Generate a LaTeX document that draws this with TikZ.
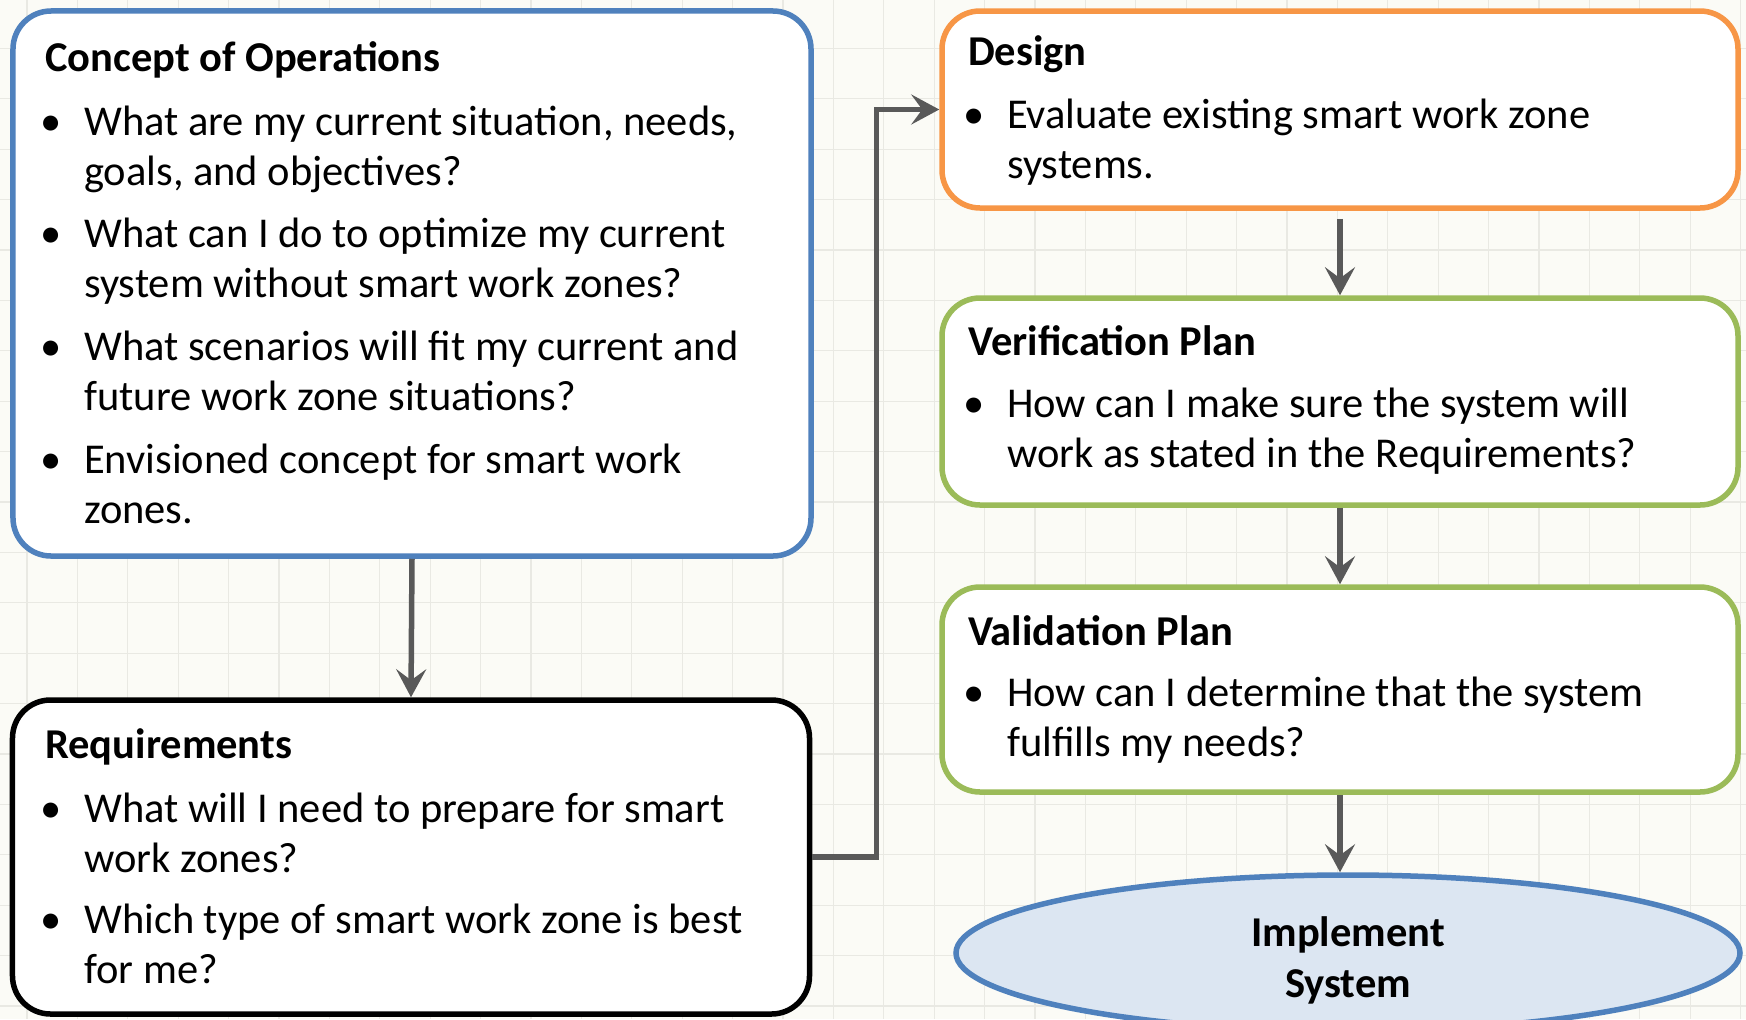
\documentclass[tikz,border=0pt]{standalone}
\usepackage{fontspec}
\setmainfont{Carlito}
\usetikzlibrary{arrows.meta,shapes.geometric}
\definecolor{bgc}{HTML}{FBFBF6}
\definecolor{gridc}{HTML}{E9E9E3}
\definecolor{cblue}{HTML}{4F81BD}
\definecolor{corange}{HTML}{F79646}
\definecolor{cgreen}{HTML}{9BBB59}
\definecolor{cfill}{HTML}{DCE6F2}
\definecolor{carrow}{HTML}{595959}
\tikzset{
  box/.style={draw=#1, line width=5.5bp, fill=white, rounded corners=38bp, rectangle, inner sep=0pt},
  oval/.style={ellipse, draw=cblue, line width=5.5bp, fill=cfill, inner sep=0pt},
  txt/.style={anchor=base west, inner sep=0pt, font=\fontsize{42.5bp}{51bp}\selectfont},
  ttl/.style={anchor=base west, inner sep=0pt, font=\fontsize{42.5bp}{51bp}\selectfont\bfseries},
  ctr/.style={anchor=base, inner sep=0pt, font=\fontsize{42.5bp}{51bp}\selectfont\bfseries},
  bul/.style={anchor=base, inner sep=0pt, font=\fontsize{42.5bp}{51bp}\selectfont},
  conn/.style={draw=carrow, line width=5.5bp, -{Stealth[length=28bp, width=30bp, inset=11bp]}},
  gridline/.style={draw=gridc, line width=1.3bp}
}
\begin{document}
\begin{tikzpicture}[x=1bp, y=-1bp]
\useasboundingbox (0,0) rectangle (1746,1019);
\fill[bgc] (0,0) rectangle (1746,1019);
\foreach \i in {0,...,34} \draw[gridline] ({27+\i*50.4},0) -- ({27+\i*50.4},1019);
\foreach \j in {0,...,20} \draw[gridline] (0,{-2+\j*50.4}) -- (1746,{-2+\j*50.4});

% boxes
\node[box=cblue, minimum width=798bp, minimum height=545bp] (conops) at (412,283.5) {};
\node[box=black, minimum width=797bp, minimum height=314bp] (req) at (411,857) {};
\node[box=corange, minimum width=796bp, minimum height=197bp] (design) at (1340,109.5) {};
\node[box=cgreen, minimum width=796bp, minimum height=207bp] (verif) at (1340,401.5) {};
\node[box=cgreen, minimum width=796bp, minimum height=205bp] (valid) at (1340,689.5) {};
\node[oval, minimum width=784bp, minimum height=156bp] (impl) at (1348,953) {};

% Concept of Operations text
\node[ttl] (c0) at (45,71) {Concept of Operations};
\node[bul] (cb1) at (51.5,135) {\textbullet};
\node[txt] (c1) at (84,135) {What are my current situation, needs,};
\node[txt] (c2) at (84,185) {goals, and objectives?};
\node[bul] (cb2) at (51.5,247) {\textbullet};
\node[txt] (c3) at (84,247) {What can I do to optimize my current};
\node[txt] (c4) at (84,297) {system without smart work zones?};
\node[bul] (cb3) at (51.5,360) {\textbullet};
\node[txt] (c5) at (84,360) {What scenarios will fit my current and};
\node[txt] (c6) at (84,410) {future work zone situations?};
\node[bul] (cb4) at (51.5,473) {\textbullet};
\node[txt] (c7) at (84,473) {Envisioned concept for smart work};
\node[txt] (c8) at (84,523) {zones.};

% Requirements text
\node[ttl] (r0) at (45,758) {Requirements};
\node[bul] (rb1) at (51.5,822) {\textbullet};
\node[txt] (r1) at (84,822) {What will I need to prepare for smart};
\node[txt] (r2) at (84,872) {work zones?};
\node[bul] (rb2) at (51.5,933) {\textbullet};
\node[txt] (r3) at (84,933) {Which type of smart work zone is best};
\node[txt] (r4) at (84,983) {for me?};

% Design text
\node[ttl] (d0) at (968,65) {Design};
\node[bul] (db1) at (974,128) {\textbullet};
\node[txt] (d1) at (1007,128) {Evaluate existing smart work zone};
\node[txt] (d2) at (1007,178) {systems.};

% Verification text
\node[ttl] (v0) at (968,355) {Verification Plan};
\node[bul] (vb1) at (974,417) {\textbullet};
\node[txt] (v1) at (1007,417) {How can I make sure the system will};
\node[txt] (v2) at (1007,467) {work as stated in the Requirements?};

% Validation text
\node[ttl] (a0) at (968,645) {Validation Plan};
\node[bul] (ab1) at (974,706) {\textbullet};
\node[txt] (a1) at (1007,706) {How can I determine that the system};
\node[txt] (a2) at (1007,756) {fulfills my needs?};

% Implement System text
\node[ctr] (i1) at (1348,946) {Implement};
\node[ctr] (i2) at (1348,997) {System};

% connectors
\draw[conn] (conops.south) -- (req.north);
\draw[conn] (req.east) -- ++(64,0) |- (design.west);
\draw[conn, shorten <=8bp] (design.south) -- (verif.north);
\draw[conn] (verif.south) -- (valid.north);
\draw[conn] (valid.south) -- (valid.south |- impl.north);
\end{tikzpicture}
\end{document}
